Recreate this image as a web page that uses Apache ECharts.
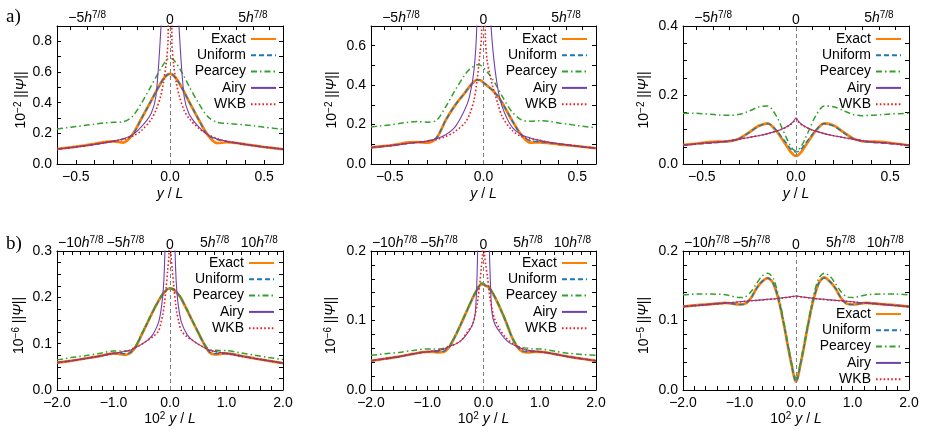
<!DOCTYPE html>
<html><head><meta charset="utf-8">
<script src="https://cdn.jsdelivr.net/npm/echarts@6/dist/echarts.min.js"></script>
<style>html,body{margin:0;padding:0;background:#fff}#c{width:928px;height:439px}</style>
</head><body><div id="c"></div>
<script>
// ---------- data ----------
const seriesNames = ['Exact','Uniform','Pearcey','Airy','WKB'];

const xA = [-0.6,-0.55,-0.5,-0.45,-0.4,-0.35,-0.3,-0.25,-0.2,-0.15,-0.1,-0.075,-0.05,-0.035,-0.02,-0.01,0,0.01,0.02,0.035,0.05,0.075,0.1,0.15,0.2,0.25,0.3,0.35,0.4,0.45,0.5,0.55,0.6];

const a1Exact   = [0.098,0.105,0.113,0.122,0.132,0.143,0.147,0.140,0.190,0.300,0.412,0.470,0.525,0.555,0.575,0.585,0.588,0.585,0.575,0.555,0.525,0.470,0.410,0.295,0.190,0.136,0.142,0.137,0.128,0.120,0.111,0.104,0.096];
const a1Uniform = [0.098,0.104,0.111,0.119,0.128,0.138,0.149,0.163,0.190,0.300,0.412,0.470,0.525,0.555,0.575,0.585,0.588,0.585,0.575,0.555,0.525,0.470,0.410,0.295,0.190,0.160,0.147,0.137,0.127,0.118,0.110,0.103,0.096];
const a1Pearcey = [0.229,0.236,0.244,0.252,0.260,0.268,0.272,0.275,0.310,0.400,0.510,0.565,0.620,0.650,0.675,0.685,0.690,0.687,0.678,0.655,0.625,0.570,0.510,0.400,0.310,0.272,0.265,0.260,0.255,0.248,0.240,0.233,0.227];
const a1Airy    = [0.098,0.104,0.111,0.119,0.128,0.138,0.149,0.163,0.190,0.245,0.330,0.440,0.850,1.300,2.200,4.000,8.000,4.000,2.200,1.300,0.850,0.440,0.330,0.245,0.190,0.163,0.149,0.138,0.128,0.119,0.111,0.104,0.098];
const a1WKB     = [0.098,0.104,0.111,0.119,0.128,0.138,0.149,0.160,0.180,0.220,0.290,0.350,0.440,0.530,0.660,0.820,3.000,0.800,0.640,0.520,0.440,0.350,0.300,0.235,0.195,0.165,0.149,0.138,0.128,0.119,0.111,0.104,0.098];

const a2Exact   = [0.084,0.089,0.094,0.101,0.110,0.111,0.108,0.132,0.225,0.300,0.360,0.392,0.418,0.426,0.426,0.421,0.412,0.405,0.397,0.385,0.372,0.345,0.310,0.225,0.150,0.108,0.110,0.106,0.100,0.095,0.090,0.085,0.080];
const a2Uniform = [0.083,0.088,0.093,0.099,0.105,0.110,0.116,0.135,0.225,0.300,0.360,0.392,0.418,0.426,0.426,0.421,0.412,0.405,0.397,0.385,0.372,0.345,0.310,0.225,0.150,0.118,0.113,0.108,0.102,0.096,0.090,0.085,0.080];
const a2Pearcey = [0.188,0.193,0.198,0.205,0.212,0.215,0.212,0.222,0.293,0.376,0.452,0.480,0.497,0.503,0.502,0.497,0.488,0.478,0.467,0.448,0.427,0.387,0.343,0.267,0.225,0.217,0.220,0.217,0.208,0.202,0.195,0.189,0.183];
const a2Airy    = [0.083,0.088,0.093,0.099,0.105,0.110,0.116,0.128,0.150,0.190,0.275,0.340,0.480,0.720,1.500,3.000,6.000,3.000,1.500,0.800,0.580,0.390,0.290,0.190,0.150,0.132,0.120,0.110,0.103,0.097,0.091,0.085,0.080];
const a2WKB     = [0.083,0.088,0.093,0.099,0.105,0.110,0.116,0.125,0.140,0.166,0.208,0.250,0.326,0.420,0.550,0.660,2.000,0.640,0.520,0.450,0.390,0.310,0.240,0.173,0.140,0.128,0.120,0.110,0.103,0.097,0.091,0.085,0.080];

const a3Exact   = [0.055,0.058,0.061,0.064,0.065,0.066,0.074,0.091,0.110,0.118,0.093,0.073,0.053,0.040,0.030,0.025,0.024,0.025,0.030,0.040,0.053,0.073,0.093,0.118,0.112,0.093,0.075,0.066,0.065,0.064,0.061,0.058,0.054];
const a3Uniform = [0.055,0.057,0.059,0.061,0.063,0.066,0.074,0.091,0.109,0.117,0.095,0.077,0.060,0.048,0.040,0.036,0.035,0.036,0.040,0.048,0.060,0.077,0.095,0.117,0.110,0.092,0.074,0.066,0.063,0.061,0.059,0.057,0.054];
const a3Pearcey = [0.147,0.147,0.146,0.144,0.142,0.141,0.144,0.153,0.165,0.168,0.135,0.105,0.075,0.058,0.045,0.040,0.038,0.040,0.045,0.058,0.075,0.105,0.135,0.168,0.166,0.155,0.144,0.140,0.141,0.143,0.145,0.146,0.147];
const a3Airy    = [0.054,0.057,0.060,0.062,0.064,0.068,0.072,0.077,0.082,0.088,0.096,0.101,0.108,0.113,0.120,0.126,0.134,0.126,0.120,0.113,0.108,0.101,0.096,0.088,0.082,0.077,0.072,0.068,0.064,0.062,0.060,0.057,0.054];
const a3WKB     = [0.054,0.057,0.060,0.062,0.064,0.068,0.072,0.077,0.082,0.088,0.096,0.101,0.107,0.112,0.118,0.124,0.131,0.124,0.118,0.112,0.107,0.101,0.096,0.088,0.082,0.077,0.072,0.068,0.064,0.062,0.060,0.057,0.054];

const xB = [-2,-1.75,-1.5,-1.25,-1,-0.9,-0.8,-0.7,-0.6,-0.5,-0.4,-0.3,-0.2,-0.15,-0.12,-0.1,-0.07,-0.04,-0.02,0,0.02,0.04,0.07,0.1,0.12,0.15,0.2,0.3,0.4,0.5,0.6,0.7,0.8,0.9,1,1.25,1.5,1.75,2];

const b1Exact   = [0.059,0.063,0.068,0.073,0.079,0.078,0.076,0.080,0.095,0.120,0.145,0.170,0.193,0.203,0.208,0.211,0.215,0.218,0.219,0.219,0.219,0.218,0.216,0.213,0.210,0.206,0.197,0.173,0.148,0.124,0.100,0.081,0.077,0.078,0.079,0.074,0.068,0.063,0.058];
const b1Uniform = [0.059,0.063,0.068,0.073,0.079,0.079,0.078,0.081,0.095,0.120,0.145,0.170,0.193,0.203,0.208,0.211,0.215,0.218,0.219,0.219,0.219,0.218,0.216,0.213,0.210,0.206,0.197,0.173,0.148,0.124,0.100,0.082,0.078,0.079,0.079,0.074,0.068,0.063,0.058];
const b1Pearcey = [0.065,0.070,0.074,0.079,0.084,0.084,0.084,0.086,0.097,0.121,0.146,0.171,0.194,0.204,0.209,0.212,0.216,0.219,0.220,0.220,0.220,0.219,0.217,0.214,0.211,0.207,0.198,0.174,0.149,0.125,0.101,0.087,0.086,0.085,0.085,0.080,0.075,0.070,0.066];
const b1Airy    = [0.059,0.063,0.068,0.073,0.079,0.081,0.083,0.086,0.092,0.099,0.107,0.120,0.147,0.180,0.215,0.260,0.400,0.800,1.500,3.000,1.500,0.800,0.400,0.260,0.215,0.180,0.147,0.120,0.107,0.099,0.092,0.086,0.083,0.081,0.079,0.073,0.068,0.063,0.058];
const b1WKB     = [0.059,0.063,0.068,0.073,0.079,0.081,0.083,0.086,0.092,0.099,0.107,0.115,0.128,0.150,0.168,0.185,0.220,0.260,0.290,0.600,0.290,0.260,0.220,0.185,0.168,0.150,0.128,0.115,0.107,0.099,0.092,0.086,0.083,0.081,0.079,0.073,0.068,0.063,0.058];

const b2Exact   = [0.042,0.045,0.048,0.052,0.055,0.055,0.054,0.055,0.063,0.078,0.095,0.113,0.131,0.139,0.143,0.146,0.150,0.152,0.152,0.152,0.151,0.150,0.149,0.147,0.145,0.141,0.134,0.117,0.098,0.077,0.062,0.055,0.054,0.055,0.055,0.052,0.048,0.045,0.042];
const b2Uniform = [0.042,0.045,0.048,0.052,0.055,0.055,0.055,0.056,0.063,0.078,0.095,0.113,0.131,0.139,0.143,0.146,0.150,0.152,0.152,0.152,0.151,0.150,0.149,0.147,0.145,0.141,0.134,0.117,0.098,0.077,0.062,0.056,0.055,0.055,0.055,0.052,0.048,0.045,0.042];
const b2Pearcey = [0.050,0.052,0.054,0.057,0.059,0.059,0.059,0.060,0.065,0.079,0.096,0.114,0.132,0.140,0.145,0.148,0.152,0.154,0.154,0.153,0.152,0.151,0.150,0.148,0.146,0.142,0.135,0.118,0.099,0.078,0.064,0.061,0.060,0.059,0.059,0.056,0.053,0.051,0.050];
const b2Airy    = [0.042,0.045,0.048,0.052,0.055,0.056,0.057,0.059,0.063,0.066,0.071,0.080,0.093,0.108,0.150,0.220,0.400,0.800,1.500,3.000,1.500,0.800,0.400,0.220,0.160,0.112,0.095,0.082,0.072,0.066,0.063,0.059,0.057,0.056,0.055,0.052,0.048,0.045,0.042];
const b2WKB     = [0.042,0.045,0.048,0.052,0.055,0.056,0.057,0.059,0.063,0.066,0.071,0.082,0.094,0.108,0.120,0.130,0.150,0.175,0.195,0.500,0.195,0.180,0.163,0.142,0.130,0.117,0.102,0.086,0.075,0.068,0.063,0.059,0.057,0.056,0.055,0.052,0.048,0.045,0.042];

const b3Exact   = [0.120,0.122,0.1235,0.1255,0.123,0.124,0.132,0.146,0.156,0.161,0.153,0.127,0.088,0.066,0.053,0.045,0.033,0.021,0.015,0.012,0.015,0.021,0.033,0.045,0.053,0.066,0.088,0.127,0.153,0.162,0.156,0.146,0.132,0.124,0.123,0.1255,0.1235,0.122,0.120];
const b3Uniform = [0.120,0.122,0.1235,0.1255,0.123,0.124,0.132,0.146,0.156,0.161,0.153,0.127,0.088,0.066,0.053,0.045,0.033,0.021,0.015,0.012,0.015,0.021,0.033,0.045,0.053,0.066,0.088,0.127,0.153,0.161,0.156,0.146,0.132,0.124,0.123,0.1255,0.1235,0.122,0.120];
const b3Pearcey = [0.137,0.138,0.138,0.137,0.133,0.134,0.141,0.153,0.164,0.168,0.160,0.132,0.091,0.069,0.057,0.048,0.036,0.025,0.019,0.017,0.019,0.025,0.036,0.048,0.057,0.069,0.091,0.132,0.160,0.168,0.164,0.153,0.141,0.134,0.133,0.137,0.138,0.138,0.137];
const b3Airy    = [0.120,0.1215,0.1235,0.125,0.127,0.1278,0.1285,0.129,0.1297,0.1305,0.131,0.132,0.133,0.1335,0.1338,0.134,0.1345,0.1348,0.135,0.1352,0.135,0.1348,0.1345,0.134,0.1338,0.1335,0.133,0.132,0.131,0.1305,0.1297,0.129,0.1285,0.1278,0.127,0.125,0.1235,0.1215,0.120];
const b3WKB     = [0.120,0.1214,0.1233,0.1248,0.1268,0.1276,0.1283,0.1288,0.1295,0.1302,0.1308,0.1318,0.1328,0.1333,0.1336,0.1338,0.1342,0.1345,0.1347,0.1349,0.1347,0.1345,0.1342,0.1338,0.1336,0.1333,0.1328,0.1318,0.1308,0.1302,0.1295,0.1288,0.1283,0.1276,0.1268,0.1248,0.1233,0.1214,0.120];

// top-axis ticks, in units of h^{7/8}
const hUnitA = 0.088, topTicksA = [-6,-5,-4,-3,-2,-1,0,1,2,3,4,5,6], topLabelsA = [-5,0,5];
const hUnitB = 0.158, topTicksB = [-12,-11,-10,-9,-8,-7,-6,-5,-4,-3,-2,-1,0,1,2,3,4,5,6,7,8,9,10,11,12], topLabelsB = [-10,-5,0,5,10];
const yExpA = '−2', yExpB1 = '−6', yExpB3 = '−5';

// ---------- layout / styles ----------
const FONT = '"Liberation Sans", Arial, Helvetica, sans-serif';
const STY = {
  Exact:   {color:'#ff7f00', width:2.7, type:'solid'},
  Uniform: {color:'#1f78b4', width:1.5, type:[5,3]},
  Pearcey: {color:'#33a02c', width:1.5, type:[6,3,1.5,3]},
  Airy:    {color:'#7040b0', width:1.1, type:'solid'},
  WKB:     {color:'#ee1c1c', width:1.6, type:[1.6,2.2]}
};
const rich = {
  n:{fontSize:14, fontFamily:FONT, color:'#000'},
  i:{fontSize:14, fontFamily:FONT, fontStyle:'italic', color:'#000'},
  s:{fontSize:10, fontFamily:FONT, color:'#000', padding:[0,0,7,0]}
};
const rowA = {xmin:-0.6, xmax:0.6, xtick:0.1, xlab:0.5, xs:xA, h:hUnitA, tt:topTicksA, tl:topLabelsA,
  xName:'{i|y}{n| / }{i|L}', nameGapX:23};
const rowB = {xmin:-2, xmax:2, xtick:0.2, xlab:1, xs:xB, h:hUnitB, tt:topTicksB, tl:topLabelsB,
  xName:'{n|10}{s|2}{n| }{i|y}{n| / }{i|L}', nameGapX:20};

const panels = [
  {row:rowA, d:[a1Exact,a1Uniform,a1Pearcey,a1Airy,a1WKB], ymax:0.9, yt:0.1, yl:0.2, ye:yExpA,
   g:{left:57, top:26, width:226, height:138}, lg:{top:32, right:651}, ng:25},
  {row:rowA, d:[a2Exact,a2Uniform,a2Pearcey,a2Airy,a2WKB], ymax:0.7, yt:0.1, yl:0.2, ye:yExpA,
   g:{left:371, top:26, width:225, height:138}, lg:{top:32, right:340}, ng:30},
  {row:rowA, d:[a3Exact,a3Uniform,a3Pearcey,a3Airy,a3WKB], ymax:0.4, yt:0.05, yl:0.2, ye:yExpA,
   g:{left:683, top:26, width:226, height:138}, lg:{top:32, right:26}, ng:30},
  {row:rowB, d:[b1Exact,b1Uniform,b1Pearcey,b1Airy,b1WKB], ymax:0.3, yt:0.025, yl:0.1, ye:yExpB1,
   g:{left:57, top:251, width:226, height:139}, lg:{top:256, right:653}, ng:29},
  {row:rowB, d:[b2Exact,b2Uniform,b2Pearcey,b2Airy,b2WKB], ymax:0.2, yt:0.02, yl:0.1, ye:yExpB1,
   g:{left:371, top:251, width:225, height:139}, lg:{top:256, right:340}, ng:31},
  {row:rowB, d:[b3Exact,b3Uniform,b3Pearcey,b3Airy,b3WKB], ymax:0.2, yt:0.02, yl:0.1, ye:yExpB3,
   g:{left:683, top:251, width:226, height:139}, lg:{top:307, right:26}, ng:30}
];

const isMult = (v, s) => Math.abs(v / s - Math.round(v / s)) < 1e-6;
const fmtNum = v => { const t = (Math.abs(v) < 1e-9 ? 0 : v).toFixed(1); return t.replace('-', '−'); };
const lineAx = {show:true, onZero:false, lineStyle:{color:'#000', width:1}};
const tickAx = {show:true, inside:true, length:4, lineStyle:{color:'#000', width:1}};

const grid = [], xAxis = [], yAxis = [], legend = [], series = [];
panels.forEach((p, pi) => {
  const r = p.row;
  grid.push(Object.assign({show:false, containLabel:false}, p.g));
  xAxis.push({type:'value', gridIndex:pi, position:'bottom', min:r.xmin, max:r.xmax, interval:r.xtick,
    axisLine:lineAx, axisTick:tickAx, splitLine:{show:false},
    axisLabel:{margin:6, fontSize:14, fontFamily:FONT, color:'#000',
      formatter: v => (isMult(v, r.xlab) ? fmtNum(v) : '')},
    name:r.xName, nameLocation:'middle', nameGap:r.nameGapX,
    nameTextStyle:{fontSize:14, fontFamily:FONT, color:'#000', rich}});
  xAxis.push({type:'value', gridIndex:pi, position:'top', min:r.xmin, max:r.xmax,
    axisLine:lineAx, splitLine:{show:false},
    axisTick:Object.assign({}, tickAx, {customValues:r.tt.map(k => k * r.h)}),
    axisLabel:{margin:-1, fontSize:14, fontFamily:FONT, color:'#000', rich,
      customValues:r.tl.map(k => k * r.h),
      formatter: v => { const k = Math.round(v / r.h);
        return k === 0 ? '{n|0}' : '{n|' + (k < 0 ? '−' : '') + Math.abs(k) + '}{i|h}{s|7/8}'; }}});
  yAxis.push({type:'value', gridIndex:pi, position:'left', min:0, max:p.ymax, interval:p.yt,
    axisLine:lineAx, axisTick:tickAx, splitLine:{show:false},
    axisLabel:{margin:5, fontSize:14, fontFamily:FONT, color:'#000',
      formatter: v => (isMult(v, p.yl) ? fmtNum(v) : '')},
    name:'{n|10}{s|' + p.ye + '}{n| ||}{i|Ψ}{n|||}', nameLocation:'middle', nameRotate:90, nameGap:p.ng,
    nameTextStyle:{fontSize:14, fontFamily:FONT, color:'#000', rich, padding:[0,10,0,0]}});
  yAxis.push({type:'value', gridIndex:pi, position:'right', min:0, max:p.ymax, interval:p.yt,
    axisLine:lineAx, axisTick:tickAx, splitLine:{show:false}, axisLabel:{show:false}});
  legend.push({orient:'vertical', align:'right', top:p.lg.top, right:p.lg.right, padding:0,
    itemGap:2.3, itemWidth:25, itemHeight:14, selectedMode:false, data:seriesNames,
    itemStyle:{opacity:0, color:'rgba(0,0,0,0)', borderWidth:0},
    textStyle:{fontSize:14, fontFamily:FONT, color:'#000'}});
  seriesNames.forEach((nm, si) => {
    const st = STY[nm];
    const s = {type:'line', name:nm, xAxisIndex:2 * pi, yAxisIndex:2 * pi,
      data:r.xs.map((x, j) => [x, p.d[si][j]]),
      symbol:'none', showSymbol:false, smooth:0.3, clip:true, silent:true, z:2 + si,
      lineStyle:{color:st.color, width:st.width, type:st.type}, itemStyle:{color:st.color}};
    if (si === 0) s.markLine = {silent:true, symbol:'none', label:{show:false},
      lineStyle:{color:'#808080', width:1, type:[4,3]}, data:[{xAxis:0}], animation:false};
    series.push(s);
  });
});

const chart = echarts.init(document.getElementById('c'), null, {renderer:'canvas'});
chart.setOption({
  animation:false, backgroundColor:'#fff',
  grid, xAxis, yAxis, legend, series,
  graphic:[
    {type:'text', left:6, top:8, style:{text:'a)', font:'19px "Liberation Serif", "DejaVu Serif", serif', fill:'#000'}},
    {type:'text', left:6, top:235, style:{text:'b)', font:'19px "Liberation Serif", "DejaVu Serif", serif', fill:'#000'}}
  ]
});
</script></body></html>
